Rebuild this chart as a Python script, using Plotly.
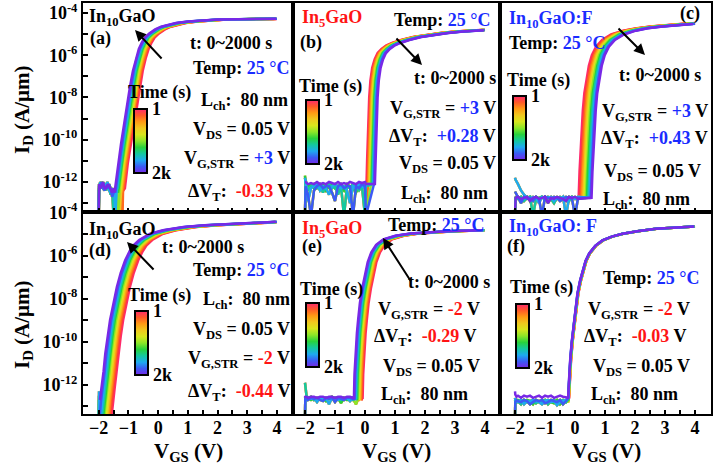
import numpy as np
import plotly.graph_objects as go

FONT = "Liberation Serif"
BLUE = "#1a2cff"
RED = "#ff1414"

# ---- curve colours: t = 1 s (first) ... 2000 s (last) ----
curve_colors = ["#ff2a6e", "#ff3c3c", "#ff6a1e", "#ff9a14", "#f0c81e", "#d8e61e",
                "#8ce628", "#28d23c", "#14c8a0", "#1eaaf0", "#3c5af5", "#7828e6"]
cbar_scale = [[0.0, "#7828e6"], [0.1, "#3c5af5"], [0.2, "#1eaaf0"], [0.3, "#14c8a0"],
              [0.4, "#28d23c"], [0.5, "#8ce628"], [0.6, "#d8e61e"], [0.7, "#f0c81e"],
              [0.8, "#ff9a14"], [0.9, "#ff5a28"], [1.0, "#ff2a6e"]]

# ---------------- panel (a) In10GaO, +3 V ----------------
a_v = [-1.12, -1.02, -0.92, -0.82, -0.72, -0.62, -0.52, -0.42, -0.32, -0.22, -0.12, 0.03, 0.23,
       0.43, 0.63, 0.93, 1.33, 1.83, 2.33, 3.0, 3.6, 3.7, 3.8, 3.9, 4.0, 4.1, 4.2, 4.3, 4.4]
a_logi = [-12.3, -11.1, -10.2, -9.3, -8.35, -7.5, -6.75, -6.15, -5.7, -5.4, -5.17, -4.97, -4.78,
          -4.65, -4.57, -4.48, -4.40, -4.34, -4.31, -4.295, -4.29, -4.288, -4.286, -4.284,
          -4.282, -4.28, -4.28, -4.28, -4.28]
a_shift = [0, -0.03, -0.06, -0.09, -0.12, -0.15, -0.18, -0.21, -0.24, -0.27, -0.30, -0.33]
a_floor_v = [-2.0, -1.99, -1.95, -1.9, -1.85, -1.8, -1.75, -1.7, -1.65, -1.6, -1.55, -1.5,
             -1.47, -1.44, -1.4, -1.35, -1.3, -1.25, -1.2, -1.15]
a_floor = [
    [-13.6, -12.3, -12.1, -12.3, -12.2, -12.1, -12.4, -12.2, -12.3, -12.6, -12.4, -13.6, -12.5, -12.4, -12.3, -12.6, -13.6, -12.5, -12.4, -12.3],
    [-13.6, -12.2, -12.0, -12.2, -12.3, -12.2, -12.1, -12.0, -12.4, -12.5, -12.3, -12.4, -12.6, -13.6, -12.5, -12.4, -12.5, -12.4, -12.5, -12.4],
    [-13.6, -12.4, -12.2, -12.0, -12.3, -12.4, -12.2, -12.3, -12.1, -12.3, -12.7, -12.5, -12.4, -12.5, -12.6, -13.6, -12.4, -12.6, -13.6, -12.5],
    [-13.6, -12.1, -12.3, -12.2, -12.0, -12.3, -12.3, -12.1, -12.2, -12.4, -12.5, -12.3, -12.5, -12.6, -12.4, -12.5, -12.6, -12.5, -12.6, -12.4],
]

# ---------------- panel (b) In5GaO, +3 V ----------------
b_v = [0.05, 0.07, 0.09, 0.11, 0.14, 0.18, 0.24, 0.32, 0.42, 0.55, 0.7, 0.9, 1.2, 1.6, 2.0,
       2.5, 3.0, 3.5, 3.6, 3.7, 3.8, 3.9, 4.0]
b_logi = [-12.1, -11.0, -10.0, -9.0, -8.0, -7.2, -6.6, -6.2, -5.9, -5.7, -5.55, -5.42, -5.28,
          -5.14, -5.04, -4.95, -4.88, -4.83, -4.825, -4.82, -4.81, -4.805, -4.8]
b_shift = [0, 0.025, 0.05, 0.075, 0.10, 0.125, 0.15, 0.175, 0.20, 0.225, 0.25, 0.28]
b_floor_v = [-2.0, -1.98, -1.9, -1.8, -1.7, -1.6, -1.5, -1.4, -1.3, -1.2, -1.1, -1.0, -0.9,
             -0.8, -0.7, -0.6, -0.5, -0.4, -0.3, -0.2, -0.1, 0.0, 0.03]
b_floor = [
    [-13.6, -11.9, -12.4, -12.2, -12.1, -12.3, -12.2, -12.5, -12.2, -12.1, -12.3, -12.2, -12.6, -12.2, -13.6, -12.2, -12.3, -12.1, -12.2, -12.4, -12.2, -13.6, -12.2],
    [-11.8, -12.0, -12.9, -12.3, -12.2, -12.1, -12.4, -12.2, -12.3, -12.6, -12.2, -12.1, -12.2, -12.3, -12.2, -12.4, -13.0, -12.2, -12.3, -12.1, -12.2, -12.3, -12.1],
    [-13.6, -12.2, -12.6, -13.6, -12.4, -12.2, -12.1, -12.3, -12.2, -12.2, -12.5, -12.9, -12.2, -12.1, -12.3, -12.2, -12.2, -13.6, -12.2, -12.3, -12.1, -12.2, -13.6],
    [-11.7, -12.1, -12.2, -12.1, -12.3, -12.2, -12.2, -12.1, -12.4, -12.2, -12.1, -12.3, -12.2, -12.2, -12.4, -12.1, -12.2, -12.3, -12.5, -12.2, -12.3, -12.1, -12.2],
]
b_floor_last = [-12.0, -12.0, -12.1, -12.05, -12.1, -12.0, -12.1, -12.05, -12.1, -12.0, -12.05, -12.1,
                -12.0, -12.1, -12.05, -12.1, -12.0, -12.05, -12.1, -12.0, -12.05, -12.0, -12.1]

# ---------------- panel (c) In10GaO:F, +3 V ----------------
c_v = [0.12, 0.15, 0.18, 0.22, 0.26, 0.31, 0.38, 0.46, 0.56, 0.7, 0.9, 1.2, 1.6, 2.0, 2.5, 3.0,
       3.5, 3.6, 3.7, 3.8, 3.9, 4.0]
c_logi = [-12.75, -11.5, -10.5, -9.5, -8.6, -7.8, -7.1, -6.5, -6.0, -5.6, -5.28, -5.02, -4.84,
          -4.73, -4.64, -4.57, -4.52, -4.51, -4.5, -4.495, -4.49, -4.48]
c_shift = [0, 0.04, 0.08, 0.12, 0.16, 0.2, 0.24, 0.28, 0.32, 0.36, 0.40, 0.43]
c_floor_v = [-2.0, -1.98, -1.9, -1.8, -1.7, -1.6, -1.5, -1.4, -1.3, -1.2, -1.1, -1.0, -0.9, -0.8,
             -0.7, -0.6, -0.5, -0.4, -0.3, -0.2, -0.1, 0.0, 0.1]
c_floor = [
    [-13.6, -12.7, -12.8, -12.7, -12.9, -12.75, -12.7, -13.6, -12.8, -12.75, -12.7, -12.85, -12.7, -12.8, -13.0, -12.75, -12.7, -12.8, -12.75, -12.9, -12.7, -12.8, -12.75],
    [-11.8, -11.9, -12.1, -12.4, -12.6, -12.75, -12.8, -12.7, -12.75, -13.0, -12.7, -12.8, -12.75, -12.7, -12.9, -12.75, -12.8, -12.7, -13.6, -12.75, -12.7, -12.8, -12.7],
    [-12.45, -12.5, -12.75, -13.0, -12.7, -12.8, -12.75, -12.9, -12.7, -12.8, -13.6, -12.7, -12.75, -12.8, -12.7, -12.75, -12.9, -12.8, -12.7, -12.75, -12.8, -13.6, -12.75],
    [-13.6, -12.75, -12.7, -12.8, -12.75, -12.7, -12.9, -12.75, -12.7, -12.8, -12.75, -12.7, -13.0, -12.75, -12.8, -12.7, -12.75, -12.8, -12.9, -12.7, -12.75, -12.7, -12.8],
]

# ---------------- panel (d) In10GaO, -2 V ----------------
d_v = [-1.58, -1.52, -1.46, -1.40, -1.34, -1.26, -1.18, -1.06, -0.95, -0.82, -0.67, -0.52, -0.39,
       -0.2, 0.17, 0.6, 1.29, 2.0, 2.98, 3.6, 3.7, 3.8, 3.9, 4.0, 4.1, 4.2, 4.3, 4.4]
d_logi = [-13.6, -12.7, -12.1, -11.4, -10.55, -9.75, -9.0, -8.2, -7.46, -6.8, -6.22, -5.8, -5.53,
          -5.28, -4.99, -4.83, -4.68, -4.6, -4.52, -4.47, -4.465, -4.46, -4.455, -4.45, -4.445,
          -4.44, -4.44, -4.435]
d_shift = [0, -0.04, -0.08, -0.12, -0.16, -0.2, -0.24, -0.28, -0.32, -0.36, -0.40, -0.44]
d_floor_v = [-2.0, -1.99, -1.98]
d_floor = [[-13.6, -12.5, -13.6], [-13.6, -12.3, -13.6], [-13.6, -13.6, -13.6], [-13.6, -12.7, -13.6]]

# ---------------- panel (e) In5GaO, -2 V ----------------
e_v = [-0.08, -0.06, -0.03, 0.02, 0.06, 0.12, 0.2, 0.28, 0.38, 0.5, 0.66, 0.9, 1.3, 1.8, 2.4,
       3.0, 3.5, 3.6, 3.7, 3.8, 3.9, 4.0, 4.1, 4.2, 4.3]
e_logi = [-12.65, -11.5, -10.54, -9.6, -9.0, -8.2, -7.5, -6.9, -6.3, -5.85, -5.5, -5.25, -5.08,
          -4.98, -4.91, -4.87, -4.845, -4.84, -4.838, -4.835, -4.832, -4.83, -4.828, -4.825, -4.82]
e_shift = [0, -0.026, -0.053, -0.08, -0.105, -0.13, -0.16, -0.185, -0.21, -0.24, -0.265, -0.29]
e_floor_v = [-2.0, -1.99, -1.95, -1.9, -1.8, -1.7, -1.6, -1.5, -1.4, -1.3, -1.2, -1.1, -1.0, -0.9,
             -0.8, -0.7, -0.6, -0.5, -0.4, -0.3, -0.2, -0.1]
e_floor = [
    [-11.9, -12.0, -12.5, -12.6, -12.55, -12.7, -12.6, -12.65, -12.6, -12.7, -12.6, -12.55, -12.65, -12.6, -12.7, -12.6, -12.65, -12.6, -12.7, -12.6, -12.65, -12.6],
    [-13.6, -12.6, -12.7, -12.6, -12.65, -12.6, -12.8, -12.6, -12.65, -12.6, -12.9, -12.6, -12.6, -12.7, -12.6, -12.65, -12.6, -12.75, -12.6, -12.65, -12.6, -12.7],
    [-13.6, -12.65, -12.6, -12.7, -12.6, -12.65, -12.6, -12.7, -12.75, -12.6, -12.65, -12.6, -12.8, -12.6, -12.65, -12.7, -12.6, -12.6, -12.65, -12.9, -12.6, -12.65],
    [-12.6, -12.55, -12.65, -12.6, -12.7, -12.6, -12.65, -12.6, -12.6, -12.75, -12.6, -12.65, -12.6, -12.6, -12.85, -12.6, -12.7, -12.6, -12.6, -12.65, -12.7, -12.6],
]
e_floor_last = [-12.5, -12.55, -12.55, -12.6, -12.55, -12.55, -12.6, -12.55, -12.55, -12.6, -12.55,
                -12.55, -12.6, -12.55, -12.55, -12.6, -12.55, -12.55, -12.6, -12.55, -12.55, -12.6]

# ---------------- panel (f) In10GaO:F, -2 V ----------------
f_v = [-0.2, -0.18, -0.16, -0.13, -0.08, -0.02, 0.05, 0.11, 0.2, 0.28, 0.38, 0.5, 0.7, 0.94, 1.25,
       1.61, 2.1, 2.72, 3.3, 3.6, 3.7, 3.8, 3.9, 4.0, 4.1]
f_logi = [-12.6, -12.0, -11.4, -10.8, -10.0, -9.2, -8.4, -7.76, -7.15, -6.69, -6.25, -5.9, -5.55,
          -5.3, -5.12, -4.99, -4.87, -4.76, -4.7, -4.67, -4.665, -4.66, -4.655, -4.65, -4.645]
f_shift = [0, -0.003, -0.005, -0.008, -0.011, -0.014, -0.016, -0.019, -0.022, -0.025, -0.027, -0.03]
f_floor_v = [-2.0, -1.99, -1.95, -1.9, -1.8, -1.7, -1.6, -1.5, -1.4, -1.3, -1.2, -1.1, -1.0, -0.9,
             -0.8, -0.7, -0.6, -0.5, -0.4, -0.3, -0.22]
f_floor = [
    [-13.6, -12.7, -12.8, -12.75, -12.9, -12.7, -12.8, -12.75, -12.7, -12.85, -12.75, -12.8, -12.7, -12.9, -12.75, -12.7, -12.8, -12.75, -12.7, -12.8, -12.75],
    [-12.6, -12.7, -12.75, -12.8, -12.7, -12.9, -12.75, -12.8, -12.7, -12.75, -12.8, -12.9, -12.75, -12.7, -12.8, -12.75, -12.95, -12.8, -12.75, -12.7, -12.8],
    [-13.6, -12.8, -12.7, -12.75, -12.8, -12.7, -12.75, -12.9, -12.8, -12.7, -12.75, -12.7, -12.85, -12.8, -12.7, -12.75, -12.8, -12.7, -12.9, -12.75, -12.7],
    [-12.7, -12.75, -12.8, -12.7, -12.75, -12.8, -12.7, -12.75, -12.9, -12.7, -12.8, -12.75, -12.7, -12.75, -12.8, -12.85, -12.7, -12.9, -12.75, -12.8, -12.7],
]
f_floor_last = [-12.3, -12.45, -12.55, -12.5, -12.6, -12.5, -12.55, -12.5, -12.6, -12.55, -12.5,
                -12.6, -12.5, -12.55, -12.5, -12.6, -12.55, -12.5, -12.55, -12.6, -12.5]

# y tick labels (even decades) and minor ticks (odd decades)
y_label_exps = [-12, -10, -8, -6, -4]
y_minor_exps = [-13, -11, -9, -7, -5]

# ---------------- layout geometry (pixels) ----------------
W, H = 716, 465
L, R, T, B = 83, 711, 3, 414
COLS = [83, 293, 500, 711]
ROWMID = 212


def P(x, y):
    return (x - L) / (R - L), (B - y) / (B - T)


panels = [
    dict(v=a_v, li=a_logi, sh=a_shift, fv=a_floor_v, fr=a_floor, last=None, ax="x", ay="y"),
    dict(v=b_v, li=b_logi, sh=b_shift, fv=b_floor_v, fr=b_floor, last=b_floor_last, ax="x2", ay="y2"),
    dict(v=c_v, li=c_logi, sh=c_shift, fv=c_floor_v, fr=c_floor, last=None, ax="x3", ay="y3"),
    dict(v=d_v, li=d_logi, sh=d_shift, fv=d_floor_v, fr=d_floor, last=None, ax="x4", ay="y4"),
    dict(v=e_v, li=e_logi, sh=e_shift, fv=e_floor_v, fr=e_floor, last=e_floor_last, ax="x5", ay="y5"),
    dict(v=f_v, li=f_logi, sh=f_shift, fv=f_floor_v, fr=f_floor, last=f_floor_last, ax="x6", ay="y6"),
]

fig = go.Figure()
for p in panels:
    for i, s in enumerate(p["sh"]):
        row = p["last"] if (i == len(p["sh"]) - 1 and p["last"] is not None) else p["fr"][i % len(p["fr"])]
        start = p["v"][0] + s
        fx = [v for v in p["fv"] if v < start]
        fy = [row[k] for k, v in enumerate(p["fv"]) if v < start]
        keep = [k for k, v in enumerate(p["v"]) if -2.0 - 1e-9 <= v + s <= 4.0 + 1e-9]
        rx = [p["v"][k] + s for k in keep]
        ry = [p["li"][k] for k in keep]
        fig.add_trace(go.Scatter(x=fx + rx, y=10.0 ** np.array(fy + ry), mode="lines",
                                 line=dict(color=curve_colors[i], width=2.5),
                                 xaxis=p["ax"], yaxis=p["ay"], showlegend=False, hoverinfo="skip"))

# colour bars (px boxes: left, top)
cbar_pos = [(134, 109), (306, 100), (513, 96), (135, 311), (306, 303), (516, 304)]
for k, (cx, cy) in enumerate(cbar_pos):
    px, py = P(cx, cy)
    fig.add_trace(go.Scatter(
        x=[None], y=[None], mode="markers", xaxis=panels[k]["ax"], yaxis=panels[k]["ay"],
        showlegend=False, hoverinfo="skip",
        marker=dict(color=[0.5], cmin=0, cmax=1, colorscale=cbar_scale, showscale=True,
                    colorbar=dict(x=px, xanchor="left", y=py, yanchor="top", len=64, lenmode="pixels",
                                  thickness=13, thicknessmode="pixels", outlinewidth=2,
                                  outlinecolor="black", tickvals=[0, 1], ticktext=["2k", "1"],
                                  ticks="", xpad=0, ypad=0,
                                  tickfont=dict(family=FONT, size=18, color="black", weight="bold")))))

layout = dict(width=W, height=H,
              margin=dict(l=L, r=W - R, t=T, b=H - B, autoexpand=False),
              paper_bgcolor="white", plot_bgcolor="white", showlegend=False)

xr = [[-2.53, 4.54], [-2.4, 4.5], [-2.5, 4.53]]
yr_top = [-13.42, -3.53]
yr_bot = [-13.35, -3.98]
tv = [10.0 ** k for k in y_label_exps]
tt = ["10<sup>%d</sup>" % k for k in y_label_exps]
tmv = [10.0 ** k for k in y_minor_exps]
tickfont = dict(family=FONT, size=18, color="black", weight="bold")

for idx in range(6):
    r, c = divmod(idx, 3)
    n = "" if idx == 0 else str(idx + 1)
    xd = [(COLS[c] - L) / (R - L), (COLS[c + 1] - L) / (R - L)]
    yd = [(B - ROWMID) / (B - T), 1.0] if r == 0 else [0.0, (B - ROWMID) / (B - T)]
    layout["xaxis" + n] = dict(domain=xd, range=xr[c], anchor="y" + n, showline=True, mirror=True,
                               linecolor="black", linewidth=2, showgrid=False, zeroline=False,
                               ticks="inside", ticklen=4, tickwidth=1.5, tickcolor="black",
                               dtick=1, tick0=0, showticklabels=(r == 1), tickfont=tickfont,
                               ticklabelstandoff=-4,
                               minor=dict(dtick=0.5, ticks="inside", ticklen=4, tickwidth=1.5,
                                          tickcolor="black", showgrid=False))
    ya = dict(domain=yd, type="log", range=yr_top if r == 0 else yr_bot, anchor="x" + n,
              showline=True, mirror=True, linecolor="black", linewidth=2, showgrid=False,
              zeroline=False)
    if c == 0:
        ya.update(tickmode="array", tickvals=tv, ticktext=tt, ticks="inside", ticklen=5,
                  tickwidth=1.5, tickcolor="black", tickfont=tickfont,
                  minor=dict(tickmode="array", tickvals=tmv, ticks="inside", ticklen=5,
                             tickwidth=1.5, tickcolor="black", showgrid=False))
    else:
        ya.update(showticklabels=False, ticks="")
    layout["yaxis" + n] = ya

fig.update_layout(**layout)


def ann(text, x, y, anchor="left", size=18, color="black", angle=0):
    px, py = P(x, y)
    fig.add_annotation(text=text, x=px, y=py, xref="paper", yref="paper", xanchor=anchor,
                       yanchor="middle", showarrow=False, textangle=angle,
                       font=dict(family=FONT, size=size, color=color, weight="bold"))


def arrow(tx, ty, hx, hy):
    px, py = P(hx, hy)
    fig.add_annotation(x=px, y=py, xref="paper", yref="paper", ax=tx - hx, ay=ty - hy,
                       text="", showarrow=True, arrowhead=2, arrowsize=1.1, arrowwidth=2,
                       arrowcolor="black")


def col(t, c):
    return "<span style='color:%s'>%s</span>" % (c, t)


T_t = "t: 0~2000 s"
T_temp = "Temp: " + col("25 °C", BLUE)
T_lch = "L<sub>ch</sub>:  80 nm"
T_vds = "V<sub>DS</sub> = 0.05 V"


def vg(v, c):
    return "V<sub>G,STR</sub> = " + col(v, c) + " V"


def dvt(v, c):
    return "ΔV<sub>T</sub>:  " + col(v, c) + " V"


# (a)
ann("In<sub>10</sub>GaO", 87, 18)
ann("(a)", 88, 38)
ann(T_t, 188, 43)
ann(T_temp, 292, 68, "right")
ann(T_lch, 290, 101, "right")
ann(T_vds, 292, 130, "right")
ann(vg("+3", BLUE), 292, 159, "right")
ann(dvt("-0.33", RED), 292, 192, "right")
ann("Time (s)", 159, 93, "center")
arrow(163, 60, 135, 30)
# (b)
ann(col("In<sub>5</sub>GaO", RED), 300, 19)
ann("(b)", 298, 42)
ann(T_temp, 493, 20, "right")
ann(T_t, 498, 78, "right")
ann(vg("+3", BLUE), 498, 109, "right")
ann(dvt("+0.28", BLUE), 498, 137, "right")
ann(T_vds, 498, 165, "right")
ann(T_lch, 490, 194, "right")
ann("Time (s)", 330, 87, "center")
arrow(395, 37, 422, 65)
# (c)
ann(col("In<sub>10</sub>GaO:F", BLUE), 507, 20)
ann("(c)", 702, 14, "right")
ann(T_temp, 507, 43)
ann(T_t, 703, 75, "right")
ann("Time (s)", 538, 80, "center")
ann(vg("+3", BLUE), 710, 112, "right")
ann(dvt("+0.43", BLUE), 710, 139, "right")
ann(T_vds, 703, 172, "right")
ann(T_lch, 692, 200, "right")
arrow(617, 27, 645, 55)
# (d)
ann("In<sub>10</sub>GaO", 87, 230)
ann("(d)", 87, 250)
ann(T_t, 160, 247)
ann(T_temp, 292, 270, "right")
ann("Time (s)", 159, 295, "center")
ann(T_lch, 292, 300, "right")
ann(T_vds, 292, 330, "right")
ann(vg("-2", RED), 292, 359, "right")
ann(dvt("-0.44", RED), 292, 392, "right")
arrow(155, 271, 127, 242)
# (e)
ann(col("In<sub>5</sub>GaO", RED), 300, 229)
ann("(e)", 300, 247)
ann(T_temp, 487, 225, "right")
ann(T_t, 492, 282, "right")
ann("Time (s)", 331, 290, "center")
ann(vg("-2", RED), 482, 310, "right")
ann(dvt("-0.29", RED), 478, 337, "right")
ann(T_vds, 482, 367, "right")
ann(T_lch, 470, 395, "right")
arrow(412, 283, 383, 238)
# (f)
ann(col("In<sub>10</sub>GaO: F", BLUE), 507, 227)
ann("(f)", 505, 247)
ann(T_temp, 702, 278, "right")
ann("Time (s)", 541, 288, "center")
ann(vg("-2", RED), 692, 310, "right")
ann(dvt("-0.03", RED), 688, 337, "right")
ann(T_vds, 692, 367, "right")
ann(T_lch, 680, 395, "right")

# axis titles
ann("I<sub>D</sub> (A/μm)", 23, 110, "center", size=21, angle=-90)
ann("I<sub>D</sub> (A/μm)", 23, 325, "center", size=21, angle=-90)
for cx in (188, 396, 606):
    ann("V<sub>GS</sub> (V)", cx, 452, "center", size=21)

fig.write_html("out.html", config={"displayModeBar": False},
               post_script="document.body.style.margin='0';")
